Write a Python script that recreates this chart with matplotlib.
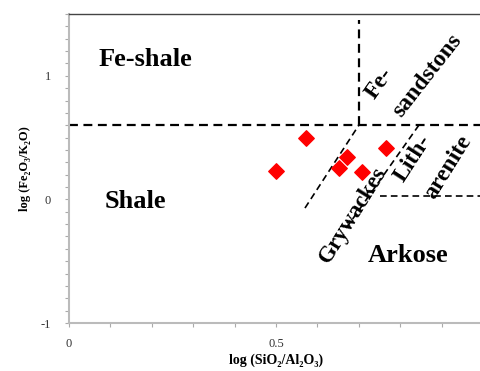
import matplotlib
matplotlib.use('Agg')
import matplotlib.pyplot as plt
import numpy as np

# --- フォント ---
plt.rcParams['font.family'] = ['Liberation Serif', 'DejaVu Serif']

# 試料 (log SiO2/Al2O3, log Fe2O3/K2O)
sample_x = [0.572, 0.500, 0.671, 0.652, 0.707, 0.766]
sample_y = [0.500, 0.227, 0.343, 0.253, 0.221, 0.415]

# 分類境界 (Herron 1988)
fe_line_x = [0.0, 1.0]
fe_line_y = [0.6, 0.6]
fe_sand_x = [0.70, 0.70]
fe_sand_y = [0.60, 1.45]
gry_left_x = [0.57, 0.70]
gry_left_y = [-0.07, 0.60]
gry_right_x = [0.67, 0.845]
gry_right_y = [-0.23, 0.60]
ark_line_x = [0.75, 1.0]
ark_line_y = [0.03, 0.03]

# 区分名 (名前, x, y, 回転, サイズ)
region_names = ['Fe-shale', 'Shale', 'Arkose', 'Grywackes', 'Fe-', 'sandstons', 'Lith-', 'arenite']
region_x = [0.185, 0.16, 0.82, 0.685, 0.75, 0.865, 0.83, 0.915]
region_y = [1.13, -0.02, -0.45, -0.13, 0.94, 1.00, 0.33, 0.26]
region_rot = [0, 0, 0, 58, 55, 52, 57, 58]
region_size = [19, 19, 19, 16.5, 17, 17, 17, 17]

x_ticks = np.round(np.arange(0, 1.01, 0.1), 1)
x_labels = ['0', '', '', '', '', '0.5', '', '', '', '', '1']
y_ticks = np.round(np.arange(-1, 1.51, 0.1), 1)
y_labels = ['-1'] + [''] * 9 + ['0'] + [''] * 9 + ['1'] + [''] * 5

fig = plt.figure(figsize=(4.8, 3.71), dpi=100)
ax = fig.add_axes([69 / 480, 1 - 323 / 371, 414 / 480, 309 / 371])

dash = (0, (4, 2.5))
ax.plot(fe_line_x, fe_line_y, color='black', lw=1.6, linestyle=dash)
ax.plot(fe_sand_x, fe_sand_y, color='black', lw=1.6, linestyle=dash)
ax.plot(gry_left_x, gry_left_y, color='black', lw=1.2, linestyle=dash)
ax.plot(gry_right_x, gry_right_y, color='black', lw=1.2, linestyle=dash)
ax.plot(ark_line_x, ark_line_y, color='black', lw=1.2, linestyle=dash)

ax.scatter(sample_x, sample_y, marker='D', s=62, color='red', zorder=3)

for name, tx, ty, rot, fs in zip(region_names, region_x, region_y, region_rot, region_size):
    ax.text(tx, ty, name, fontsize=fs, fontweight='bold', rotation=rot,
            ha='center', va='center', rotation_mode='anchor')

ax.set_xlim(0, 1)
ax.set_ylim(-1, 1.5)
ax.set_xticks(x_ticks)
ax.set_xticklabels(x_labels)
ax.set_yticks(y_ticks)
ax.set_yticklabels(y_labels)
ax.tick_params(axis='both', length=3, width=0.8, color='#aaaaaa',
               labelsize=9, labelcolor='#333333')
ax.tick_params(axis='x', pad=8)
ax.tick_params(axis='y', pad=10)

for side in ['left', 'bottom']:
    ax.spines[side].set_color('#bbbbbb')
    ax.spines[side].set_linewidth(1.5)
ax.spines['top'].set_color('#444444')
ax.spines['top'].set_linewidth(1.0)
ax.spines['right'].set_visible(False)

ax.set_xlabel('log (SiO₂/Al₂O₃)', fontsize=10, fontweight='bold', labelpad=2)
ax.set_ylabel('log (Fe₂O₃/K₂O)', fontsize=9, fontweight='bold', labelpad=7)

fig.savefig('out.png', dpi=100)
